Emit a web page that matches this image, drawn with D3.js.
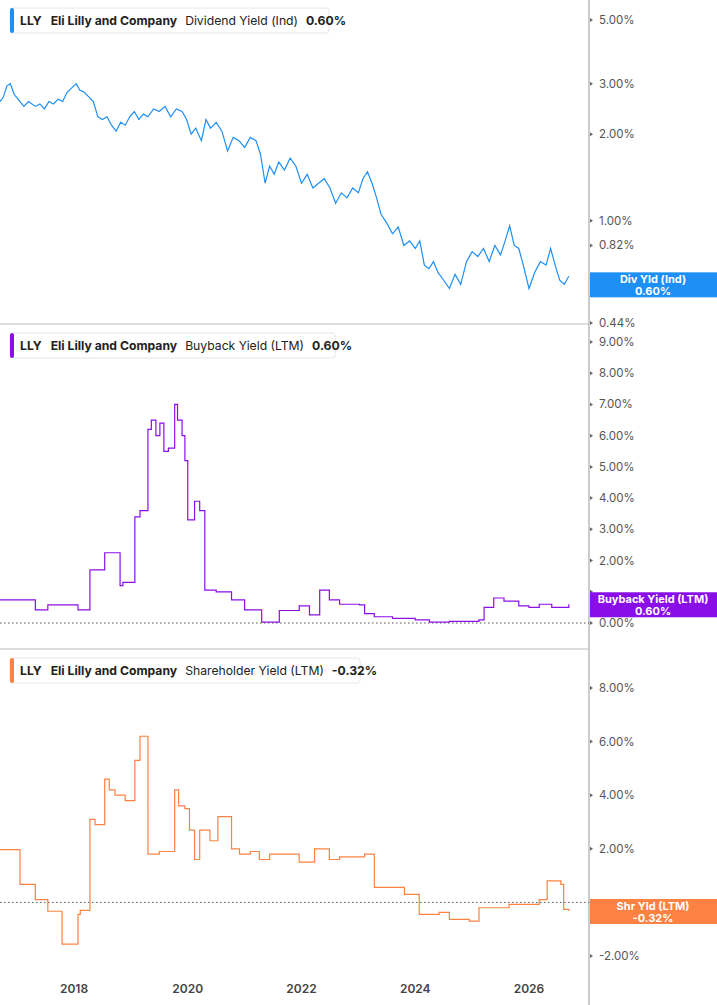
<!DOCTYPE html><html><head><meta charset="utf-8">
<script src="https://cdn.jsdelivr.net/npm/d3@7"></script>
<style>body{margin:0;background:#fff;font-family:Inter,"Noto Sans",sans-serif}</style></head><body>
<svg id="c" width="717" height="1005"></svg>
<script>
const divDates=[2016.70,2016.76,2016.82,2016.88,2016.95,2017.05,2017.12,2017.2,2017.32,2017.4,2017.48,2017.56,2017.64,2017.72,2017.8,2017.88,2017.96,2018.04,2018.1,2018.18,2018.26,2018.34,2018.42,2018.5,2018.58,2018.66,2018.74,2018.82,2018.9,2018.98,2019.06,2019.14,2019.22,2019.3,2019.4,2019.5,2019.6,2019.7,2019.8,2019.9,2019.98,2020.06,2020.14,2020.24,2020.32,2020.4,2020.5,2020.6,2020.7,2020.8,2020.9,2021.0,2021.1,2021.2,2021.28,2021.36,2021.44,2021.52,2021.6,2021.7,2021.8,2021.9,2022.0,2022.1,2022.2,2022.3,2022.4,2022.5,2022.6,2022.7,2022.8,2022.9,2023.0,2023.08,2023.16,2023.24,2023.32,2023.4,2023.5,2023.6,2023.7,2023.8,2023.9,2024.0,2024.08,2024.16,2024.24,2024.32,2024.4,2024.5,2024.6,2024.7,2024.8,2024.9,2025.0,2025.1,2025.2,2025.3,2025.4,2025.5,2025.58,2025.66,2025.74,2025.82,2025.9,2026.0,2026.1,2026.2,2026.3,2026.38,2026.46,2026.54,2026.62,2026.70];
const divVals=[2.6,2.7,2.95,3.0,2.75,2.6,2.5,2.6,2.5,2.55,2.45,2.6,2.55,2.65,2.6,2.8,2.9,3.0,2.85,2.8,2.7,2.6,2.3,2.25,2.3,2.15,2.05,2.2,2.15,2.3,2.4,2.25,2.35,2.3,2.45,2.4,2.5,2.3,2.45,2.4,2.25,2.0,2.1,1.9,2.25,2.1,2.2,2.05,1.75,1.95,1.9,1.8,1.95,1.9,1.7,1.35,1.55,1.45,1.6,1.5,1.65,1.55,1.35,1.45,1.3,1.35,1.4,1.3,1.15,1.25,1.2,1.3,1.25,1.4,1.48,1.35,1.2,1.05,0.98,0.9,0.95,0.82,0.85,0.8,0.85,0.7,0.68,0.72,0.66,0.62,0.58,0.65,0.6,0.72,0.78,0.75,0.8,0.72,0.82,0.76,0.85,0.96,0.82,0.8,0.7,0.58,0.66,0.72,0.7,0.8,0.7,0.62,0.6,0.64,0.6];
const bbDates=[2016.70,2017.32,2017.54,2018.07,2018.28,2018.54,2018.81,2018.86,2019.07,2019.16,2019.30,2019.36,2019.44,2019.51,2019.58,2019.66,2019.77,2019.82,2019.9,2019.95,2020.0,2020.12,2020.21,2020.30,2020.5,2020.77,2021.0,2021.30,2021.61,2021.96,2022.14,2022.32,2022.49,2022.67,2023.02,2023.11,2023.28,2023.6,2024.0,2024.25,2024.6,2025.12,2025.21,2025.38,2025.56,2025.82,2026.0,2026.18,2026.4,2026.70];
const bbVals=[0.74,0.42,0.58,0.42,1.7,2.25,1.2,1.3,3.4,3.6,6.2,6.5,6.0,6.4,5.5,5.6,7.0,6.5,6.0,5.2,3.3,3.9,3.6,1.05,1.0,0.74,0.42,0.03,0.4,0.55,0.26,1.05,0.74,0.6,0.58,0.3,0.2,0.15,0.1,0.03,0.05,0.1,0.5,0.8,0.7,0.55,0.5,0.6,0.5,0.6];
const shDates=[2016.70,2017.05,2017.32,2017.54,2017.79,2018.07,2018.11,2018.28,2018.37,2018.54,2018.62,2018.72,2018.9,2019.07,2019.16,2019.30,2019.5,2019.77,2019.84,2019.95,2020.03,2020.12,2020.21,2020.39,2020.53,2020.77,2020.91,2021.1,2021.26,2021.44,2021.61,2021.96,2022.23,2022.49,2022.67,2023.11,2023.28,2023.81,2024.07,2024.42,2024.60,2024.95,2025.12,2025.65,2026.18,2026.32,2026.56,2026.61,2026.70];
const shVals=[1.97,0.67,0.1,-0.33,-1.56,-0.45,-0.3,3.1,2.9,4.6,4.2,4.0,3.8,5.3,6.2,1.8,1.9,4.2,3.6,3.5,2.7,1.6,2.7,2.3,3.2,2.0,1.8,1.9,1.6,1.8,1.8,1.5,2.0,1.6,1.7,1.8,0.56,0.3,-0.45,-0.37,-0.63,-0.7,-0.2,-0.07,0.1,0.8,0.67,-0.26,-0.32];
const divTicks=[5,3,2,1,0.82,0.44], bbTicks=[0,1,2,3,4,5,6,7,8,9], shTicks=[-2,0,2,4,6,8];
const yearTicks=[2018,2020,2022,2024,2026];

const svg=d3.select("#c"), AX=589;
const x=d3.scaleLinear().domain([2018,2026]).range([74,529]);
const panels=[
 {top:0,bot:324,y:d3.scaleLog().domain([0.44,5]).range([323,20]),d:divDates,v:divVals,c:"#1e8ff5",ticks:divTicks,curve:d3.curveLinear,
  title:"Dividend Yield (Ind)",val:"0.60%",lab:["Div Yld (Ind)","0.60%"],zero:false},
 {top:325,bot:649,y:d3.scaleLinear().domain([0,9]).range([623,342]),d:bbDates,v:bbVals,c:"#8a0ee8",ticks:bbTicks,curve:d3.curveStepAfter,
  title:"Buyback Yield (LTM)",val:"0.60%",lab:["Buyback Yield (LTM)","0.60%"],zero:true},
 {top:650,bot:1005,y:d3.scaleLinear().domain([-2,8]).range([956,688]),d:shDates,v:shVals,c:"#fb8242",ticks:shTicks,curve:d3.curveStepAfter,
  title:"Shareholder Yield (LTM)",val:"-0.32%",lab:["Shr Yld (LTM)","-0.32%"],zero:true}];
svg.append("line").attr("x1",AX).attr("x2",AX).attr("y1",0).attr("y2",1005).attr("stroke","#bbb").attr("stroke-width",1.5);
panels.forEach((p,i)=>{
  if(i<2) svg.append("line").attr("x1",0).attr("x2",AX).attr("y1",p.bot).attr("y2",p.bot).attr("stroke","#bbb");
  const ly=p.y(p.v[p.v.length-1]);
  const g=svg.append("g");
  p.ticks.forEach(t=>{
    const yy=p.y(t);
    g.append("path").attr("d",`M${AX+1},${yy-2}L${AX+4},${yy}L${AX+1},${yy+2}Z`).attr("fill","#666");
    if(Math.abs(yy-ly)>18) g.append("text").attr("x",AX+10).attr("y",yy+4).attr("font-size",11.5).attr("fill","#555").text(t.toFixed(2)+"%");
  });
  if(p.zero) svg.append("line").attr("x1",0).attr("x2",AX).attr("y1",p.y(0)).attr("y2",p.y(0)).attr("stroke","#555").attr("stroke-dasharray","1.5,2.5");
  const line=d3.line().x((d,k)=>x(p.d[k])).y(d=>p.y(d)).curve(p.curve);
  svg.append("path").attr("d",line(p.v)).attr("fill","none").attr("stroke",p.c).attr("stroke-width",1.2);
  svg.append("rect").attr("x",AX+1).attr("y",ly-12).attr("width",717-AX).attr("height",25).attr("fill",p.c);
  svg.append("text").attr("x",653).attr("y",ly-1).attr("text-anchor","middle").attr("font-size",11).attr("font-weight",700).attr("fill","#fff").text(p.lab[0]);
  svg.append("text").attr("x",653).attr("y",ly+11).attr("text-anchor","middle").attr("font-size",11).attr("font-weight",700).attr("fill","#fff").text(p.lab[1]);
  const lt=p.top+8;
  const lg=svg.append("g");
  const box=lg.append("rect").attr("x",10).attr("y",lt).attr("height",25).attr("rx",3).attr("fill","#fff").attr("stroke","#e6e6e6");
  lg.append("rect").attr("x",10).attr("y",lt).attr("width",4).attr("height",25).attr("rx",2).attr("fill",p.c);
  const t=lg.append("text").attr("x",20).attr("y",lt+17).attr("font-size",12.2).attr("fill","#222");
  t.append("tspan").attr("font-weight",700).text("LLY");
  t.append("tspan").attr("dx",9).attr("font-weight",700).text("Eli Lilly and Company");
  t.append("tspan").attr("dx",8).text(p.title);
  t.append("tspan").attr("dx",8).attr("font-weight",700).text(p.val);
  box.attr("width",t.node().getComputedTextLength()+18);
});
yearTicks.forEach(yr=>svg.append("text").attr("x",x(yr)).attr("y",993).attr("text-anchor","middle").attr("font-size",12).attr("font-weight",600).attr("fill","#444").text(yr));
</script></body></html>
